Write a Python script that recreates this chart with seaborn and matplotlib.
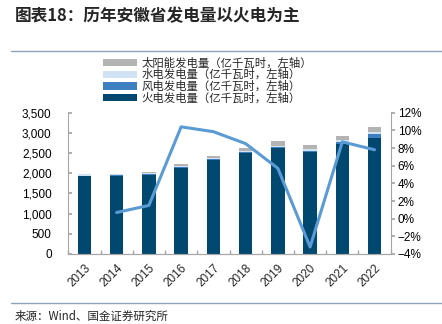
import numpy as np
import pandas as pd
import matplotlib
matplotlib.use("Agg")
import matplotlib.pyplot as plt
import seaborn as sns
from matplotlib.patches import Patch
from matplotlib.lines import Line2D
from matplotlib.ticker import FuncFormatter, FixedLocator

sns.set_theme(style="white")
plt.rcParams['font.family'] = ['Liberation Sans', 'Noto Sans CJK SC', 'DejaVu Sans']
plt.rcParams['axes.unicode_minus'] = True

years = ["2013", "2014", "2015", "2016", "2017", "2018", "2019", "2020", "2021", "2022"]
thermal = [1927, 1944, 1961, 2139, 2327, 2498, 2627, 2522, 2717, 2878]
wind = [5, 10, 15, 17, 23, 24, 32, 39, 56, 90]
hydro = [53, 39, 41, 32, 25, 25, 24, 34, 42, 49]
solar = [0, 0, 3, 49, 57, 87, 107, 105, 112, 129]
growth = [np.nan, 0.7, 1.5, 10.4, 9.85, 8.5, 5.7, -3.2, 8.7, 7.8]

labels = ["火电发电量（亿千瓦时，左轴）", "风电发电量（亿千瓦时，左轴）",
          "水电发电量（亿千瓦时，左轴）", "太阳能发电量（亿千瓦时，左轴）"]
colors = ["#004870", "#3d7fc0", "#d0e2f3", "#b3b3b3"]
line_color = "#5b9bd5"

series = [thermal, wind, hydro, solar]
fig = plt.figure(figsize=(4.42, 3.24), dpi=100)
ax = fig.add_axes([68.3 / 442, 1 - 254 / 324, (390.7 - 68.3) / 442, (254 - 112.7) / 324])

bottom = np.zeros(len(years))
for vals, col in zip(series, colors):
    df = pd.DataFrame({"year": years, "v": vals})
    sns.barplot(data=df, x="year", y="v", color=col, bottom=bottom, width=0.42,
                ax=ax, saturation=1, edgecolor="none", linewidth=0)
    bottom = bottom + np.array(vals, dtype=float)

ax.set_xlim(-0.5, 9.5)
ax.set_ylim(0, 3500)
ax.set_yticks(np.arange(0, 3501, 500))
ax.yaxis.set_major_formatter(FuncFormatter(lambda v, p: f"{int(v):,}"))
ax.set_xlabel("")
ax.set_ylabel("")

ax2 = ax.twinx()
sns.lineplot(x=np.arange(len(years)), y=growth, ax=ax2, color=line_color, linewidth=2.2)
ax2.set_ylim(-4, 12)
ax2.set_yticks(np.arange(-4, 12.1, 2))
ax2.yaxis.set_major_formatter(FuncFormatter(lambda v, p: f"{int(round(v))}%".replace("-", "\u2212")))
ax2.set_xlim(-0.5, 9.5)

spine_col = "#a6a6a6"
for a in (ax, ax2):
    a.spines["top"].set_visible(False)
    for s in ["left", "right", "bottom"]:
        a.spines[s].set_color(spine_col)
        a.spines[s].set_linewidth(0.8)
ax.spines["right"].set_visible(False)
ax2.spines["left"].set_visible(False)

ax.tick_params(axis="y", direction="in", length=3, color=spine_col, labelsize=8.5,
               labelcolor="#000000", pad=12, left=True)
ax2.tick_params(axis="y", direction="out", length=3, color=spine_col, labelsize=8.5,
                labelcolor="#000000", pad=2, right=True)
ax.set_xticks(np.arange(len(years)))
ax.set_xticklabels(years, rotation=45, ha="right", rotation_mode="anchor", fontsize=8.5)
ax.tick_params(axis="x", which="major", length=0, pad=6)
ax.xaxis.set_minor_locator(FixedLocator(np.arange(-0.5, 9.6, 1)))
ax.tick_params(axis="x", which="minor", direction="in", length=3, color=spine_col, bottom=True)

handles = [Patch(facecolor=c, edgecolor="none") for c in colors[::-1]]
fig.legend(handles, labels[::-1], loc="upper left", bbox_to_anchor=(103 / 442, 1 - 57 / 324),
           frameon=False, handlelength=3.0, handleheight=0.6,
           handletextpad=0.35, labelspacing=0.05, borderpad=0, borderaxespad=0,
           prop={"family": ["Noto Sans CJK SC"], "size": 8.2})

fig.text(15 / 442, 1 - 16 / 324, "图表18：历年安徽省发电量以火电为主", fontsize=12,
         fontweight="bold", family=["Noto Sans CJK SC", "DejaVu Sans"], va="center", ha="left")
fig.add_artist(Line2D([11 / 442, 1], [1 - 51 / 324, 1 - 51 / 324], color="#8fa3b6", linewidth=1.0))
fig.add_artist(Line2D([11 / 442, 1], [1 - 302.7 / 324, 1 - 302.7 / 324], color="#8fa3b6", linewidth=1.0))
fig.text(15 / 442, 1 - 316.5 / 324, "来源：Wind、国金证券研究所", fontsize=8.3,
         family=["Noto Sans CJK SC", "DejaVu Sans"], va="center", ha="left")

fig.savefig("out.png", dpi=100)
